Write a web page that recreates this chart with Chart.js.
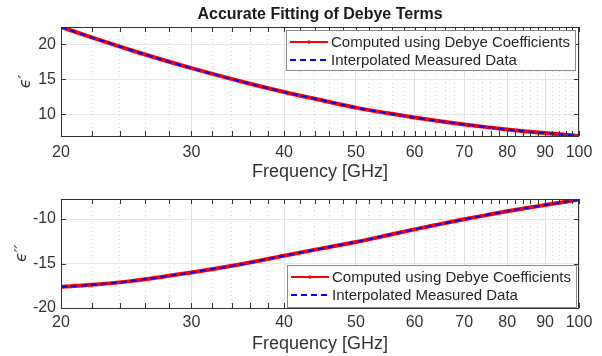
<!DOCTYPE html>
<html>
<head>
<meta charset="utf-8">
<script src="https://cdn.jsdelivr.net/npm/chart.js@4.4.1/dist/chart.umd.min.js"></script>
<style>
  html, body { margin: 0; padding: 0; background: #fff; }
  #wrap { width: 602px; height: 356px; }
  canvas { display: block; }
</style>
</head>
<body>
<div id="wrap">
  <canvas id="eps-real" width="602" height="184"></canvas>
  <canvas id="eps-imag" width="602" height="172"></canvas>
</div>
<script>
// ---- data ----
const freqGHz = [20, 22, 25, 30, 35, 40, 45, 50, 55, 60, 65, 70, 75, 80, 85, 90, 95, 100];

// eps' (real part)
const realDebye    = [22.5, 21.0, 19.1, 16.6, 14.7, 13.2, 12.0, 10.95, 10.18, 9.53, 8.99, 8.54, 8.16, 7.83, 7.55, 7.31, 7.09, 6.89];
const realMeasured = [22.5, 21.0, 19.1, 16.6, 14.7, 13.2, 12.0, 10.95, 10.18, 9.53, 8.99, 8.54, 8.16, 7.83, 7.55, 7.31, 7.09, 6.89];

// eps'' (imaginary part)
const imagDebye    = [-17.63, -17.4, -16.95, -16.0, -15.08, -14.12, -13.3, -12.58, -11.85, -11.16, -10.57, -10.03, -9.56, -9.13, -8.76, -8.43, -8.12, -7.8];
const imagMeasured = [-17.63, -17.4, -16.95, -16.0, -15.08, -14.12, -13.3, -12.58, -11.85, -11.16, -10.57, -10.03, -9.56, -9.13, -8.76, -8.43, -8.12, -7.8];

// ticks
const xMajorTicks = [20, 30, 40, 50, 60, 70, 80, 90, 100];
const yTicksReal = [10, 15, 20];
const yTicksImag = [-20, -15, -10];
const legendLabels = ['Computed using Debye Coefficients', 'Interpolated Measured Data'];

// minor ticks every 2 GHz between the labelled ones
const xAllTicks = [];
for (let f = 20; f <= 100; f += 2) xAllTicks.push(f);

const AXIS_COLOR = '#333333';
const RED = '#ff0000';
const BLUE = '#0000ff';
const FONT = "'Liberation Sans', Arial, sans-serif";

// frame, inward ticks, labels and the boxed legend (MATLAB look)
const matlabAxes = {
  id: 'matlabAxes',
  afterDraw(chart, args, opts) {
    const { ctx, chartArea: a, scales: { x, y } } = chart;
    ctx.save();

    // tick marks on all four sides
    ctx.strokeStyle = AXIS_COLOR;
    ctx.lineWidth = 1;
    ctx.beginPath();
    xAllTicks.forEach(v => {
      const px = Math.round(x.getPixelForValue(v)) + 0.5;
      ctx.moveTo(px, a.bottom); ctx.lineTo(px, a.bottom - 5);
      ctx.moveTo(px, a.top); ctx.lineTo(px, a.top + 5);
    });
    opts.yTicks.forEach(v => {
      const py = Math.round(y.getPixelForValue(v)) + 0.5;
      ctx.moveTo(a.left, py); ctx.lineTo(a.left + 5, py);
      ctx.moveTo(a.right, py); ctx.lineTo(a.right - 5, py);
    });
    ctx.stroke();
    ctx.strokeRect(Math.round(a.left) + 0.5, Math.round(a.top) + 0.5,
                   Math.round(a.width) - 1, Math.round(a.height));

    // titles
    ctx.fillStyle = AXIS_COLOR;
    ctx.textAlign = 'center';
    ctx.textBaseline = 'middle';
    const cx = (a.left + a.right) / 2;
    if (opts.title) {
      ctx.font = 'bold 16px ' + FONT;
      ctx.fillStyle = '#1a1a1a';
      ctx.fillText(opts.title, cx, 15);
      ctx.fillStyle = AXIS_COLOR;
    }
    ctx.font = '18px ' + FONT;
    ctx.fillText('Frequency [GHz]', cx, a.bottom + 36);

    ctx.save();
    ctx.translate(opts.yLabelX, (a.top + a.bottom) / 2);
    ctx.rotate(-Math.PI / 2);
    ctx.font = "italic 16px 'DejaVu Sans', sans-serif";
    ctx.fillText(opts.yLabel, 0, 0);
    ctx.restore();

    // legend box
    const L = opts.legend;
    ctx.fillStyle = '#fff';
    ctx.fillRect(L.x, L.y, L.w, L.h);
    ctx.strokeStyle = '#8c8c8c';
    ctx.strokeRect(L.x + 0.5, L.y + 0.5, L.w, L.h);
    const ds = chart.data.datasets;
    [ds[1], ds[0]].forEach((d, i) => {
      const ly = L.y + 12 + i * 18;
      ctx.beginPath();
      ctx.strokeStyle = d.borderColor;
      ctx.lineWidth = d.legendWidth;
      ctx.setLineDash(d.borderDash || []);
      ctx.moveTo(L.x + 4, ly); ctx.lineTo(L.x + 42, ly);
      ctx.stroke();
      ctx.setLineDash([]);
      if (i === 0) {
        ctx.fillStyle = d.borderColor;
        ctx.beginPath(); ctx.arc(L.x + 23, ly, 1.8, 0, Math.PI * 2); ctx.fill();
      }
      ctx.fillStyle = '#262626';
      ctx.textAlign = 'left';
      ctx.font = '15px ' + FONT;
      ctx.fillText(legendLabels[i], L.x + 45, ly + 0.5);
    });
    ctx.restore();
  }
};

function makeChart(id, debye, measured, yMin, yMax, yTicks, extra) {
  return new Chart(document.getElementById(id), {
    type: 'line',
    data: {
      labels: freqGHz,
      datasets: [
        {
          label: legendLabels[1],
          data: freqGHz.map((f, i) => ({ x: f, y: measured[i] })),
          borderColor: BLUE,
          borderWidth: 2,
          legendWidth: 2,
          borderDash: [6, 4],
          pointRadius: 0,
          cubicInterpolationMode: 'monotone',
          order: 0
        },
        {
          label: legendLabels[0],
          data: freqGHz.map((f, i) => ({ x: f, y: debye[i] })),
          borderColor: RED,
          borderWidth: 4,
          legendWidth: 2,
          pointRadius: 0,
          cubicInterpolationMode: 'monotone',
          order: 1
        }
      ]
    },
    options: {
      responsive: false,
      animation: false,
      devicePixelRatio: 1,
      layout: { padding: { top: extra.padTop, right: 23, left: 0, bottom: 0 } },
      plugins: {
        legend: { display: false },
        tooltip: { enabled: false },
        matlabAxes: {
          title: extra.title,
          yLabel: extra.yLabel,
          yLabelX: extra.yLabelX,
          yTicks: yTicks,
          legend: extra.legend
        }
      },
      scales: {
        x: {
          type: 'logarithmic',
          min: 20,
          max: 100,
          afterBuildTicks: s => { s.ticks = xAllTicks.map(v => ({ value: v })); },
          afterFit: s => { s.height = extra.xHeight; },
          ticks: {
            autoSkip: false,
            maxRotation: 0,
            padding: extra.tickPad,
            color: AXIS_COLOR,
            font: { family: FONT, size: 16 },
            callback: v => xMajorTicks.includes(v) ? String(v) : ''
          },
          grid: {
            drawTicks: false,
            color: c => (c.tick && xMajorTicks.includes(c.tick.value)) ? '#e2e2e2' : '#d6d6d6'
          },
          border: {
            display: false,
            dash: c => (c.tick && !xMajorTicks.includes(c.tick.value)) ? [1, 3] : []
          }
        },
        y: {
          min: yMin,
          max: yMax,
          afterBuildTicks: s => { s.ticks = yTicks.map(v => ({ value: v })); },
          afterFit: s => { s.width = 61; },
          ticks: {
            padding: 5,
            color: AXIS_COLOR,
            font: { family: FONT, size: 16 },
            callback: v => String(v)
          },
          grid: { drawTicks: false, color: '#e6e6e6' },
          border: { display: false }
        }
      }
    },
    plugins: [matlabAxes]
  });
}

makeChart('eps-real', realDebye, realMeasured, 6.89, 22.5, yTicksReal, {
  padTop: 27, xHeight: 48, tickPad: 7,
  title: 'Accurate Fitting of Debye Terms',
  yLabel: 'ϵ′', yLabelX: 26,
  legend: { x: 286, y: 30, w: 289, h: 40 }
});

makeChart('eps-imag', imagDebye, imagMeasured, -20, -7.75, yTicksImag, {
  padTop: 15, xHeight: 48, tickPad: 5,
  title: null,
  yLabel: 'ϵ′′', yLabelX: 22,
  legend: { x: 287, y: 81, w: 289, h: 42 }
});
</script>
</body>
</html>
